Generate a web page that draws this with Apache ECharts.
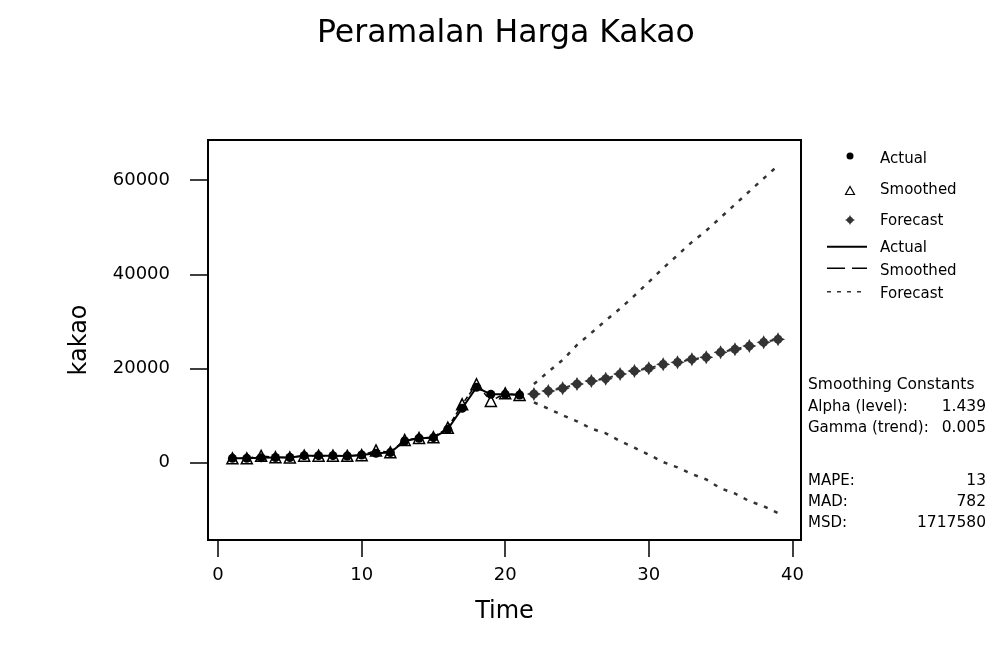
<!DOCTYPE html>
<html>
<head>
<meta charset="utf-8">
<script src="https://cdn.jsdelivr.net/npm/echarts@6/dist/echarts.min.js"></script>
<style>
html,body{margin:0;padding:0;background:#fff;}
#chart{width:993px;height:668px;}
</style>
</head>
<body>
<div id="chart"></div>
<script>
// ---- data ----
const actualTime = [1,2,3,4,5,6,7,8,9,10,11,12,13,14,15,16,17,18,19,20,21];
const actual = [930,930,1060,1100,1100,1490,1490,1490,1420,1630,1990,2150,4610,5180,5310,7090,11550,16000,14520,14520,14370];
const smoothed = [930,930,1450,1150,1100,1500,1490,1500,1450,1600,2600,2200,4820,5250,5400,7430,12400,16650,13100,14730,14400];
const forecastTime = [22,23,24,25,26,27,28,29,30,31,32,33,34,35,36,37,38,39];
const forecast = [14590,15220,15800,16710,17350,17830,18830,19470,20040,20890,21320,21950,22380,23440,24080,24780,25560,26200];
const upperPI = [16700,19300,21800,25000,27550,30200,32700,35460,38380,41300,44060,46840,49270,52040,54820,57600,60360,63100];
const lowerPI = [12800,11490,10060,8790,7230,6240,4600,3190,1710,140,-1000,-2400,-3550,-5450,-6540,-8160,-9220,-10700];
const xTicks = [0,10,20,30,40];
const yTicks = [0,20000,40000,60000];
const statLabels = ['Alpha (level):','Gamma (trend):','','MAPE:','MAD:','MSD:'];
const statValues = ['1.439','0.005','','13','782','1717580'];

const FONT = '"DejaVu Sans", sans-serif';
const GRAY = '#333333';
const fcSymbol = 'path://M5 0L6 2A3.2 3.2 0 0 1 8 4L10 5L8 6A3.2 3.2 0 0 1 6 8L5 10L4 8A3.2 3.2 0 0 1 2 6L0 5L2 4A3.2 3.2 0 0 1 4 2Z';
const fcPoly = [[5,0],[6,2],[7.3,2.7],[8,4],[10,5],[8,6],[7.3,7.3],[6,8],[5,10],[4,8],[2.7,7.3],[2,6],[0,5],[2,4],[2.7,2.7],[4,2]];

const pairs = (xs, ys) => xs.map((x, i) => [x, ys[i]]);

const chart = echarts.init(document.getElementById('chart'), null, {renderer: 'canvas'});

// legend + stats as graphic elements
const graphics = [];
const lx0 = 827, lx1 = 867, tx = 880;
graphics.push({type:'circle', shape:{cx:850, cy:156, r:3.5}, style:{fill:'#000'}});
graphics.push({type:'polygon', shape:{points:[[850,186.5],[854.5,194.5],[845.5,194.5]]}, style:{fill:'#fff', stroke:'#000', lineWidth:1.2}});
graphics.push({type:'polygon', shape:{points: fcPoly.map(p => [p[0] + 845, p[1] + 215])}, style:{fill:GRAY}});
graphics.push({type:'line', shape:{x1:lx0, y1:246.7, x2:lx1, y2:246.7}, style:{stroke:'#000', lineWidth:2}});
graphics.push({type:'line', shape:{x1:lx0, y1:268.3, x2:lx1, y2:268.3}, style:{stroke:'#000', lineWidth:1.5, lineDash:[18,7]}});
graphics.push({type:'line', shape:{x1:lx0, y1:291.7, x2:lx1, y2:291.7}, style:{stroke:GRAY, lineWidth:1.5, lineDash:[4,6]}});
const legendTexts = [['Actual',159],['Smoothed',190],['Forecast',221],['Actual',248],['Smoothed',271.5],['Forecast',294]];
legendTexts.forEach(([t, y]) => graphics.push({type:'text', x:tx, y:y, style:{text:t, font:'15px ' + FONT, fill:'#000', textAlign:'left', textVerticalAlign:'middle'}}));
graphics.push({type:'text', x:808, y:385, style:{text:'Smoothing Constants', font:'15.5px ' + FONT, fill:'#000', textAlign:'left', textVerticalAlign:'middle'}});
const statY = [406.7, 428.3, 455, 481, 501.7, 523.3];
statLabels.forEach((t, i) => {
  if (!t) return;
  graphics.push({type:'text', x:808, y:statY[i], style:{text:t, font:'15px ' + FONT, fill:'#000', textAlign:'left', textVerticalAlign:'middle'}});
  graphics.push({type:'text', x:986, y:statY[i], style:{text:statValues[i], font:'15.5px ' + FONT, fill:'#000', textAlign:'right', textVerticalAlign:'middle'}});
});

const option = {
  animation: false,
  backgroundColor: '#fff',
  title: {
    text: 'Peramalan Harga Kakao',
    left: 312, top: 13,
    textStyle: {fontFamily: FONT, fontSize: 31.5, fontWeight: 'normal', color: '#000'}
  },
  grid: {left: 208, right: 192, top: 140, bottom: 128, show: true, borderColor: '#000', borderWidth: 2, backgroundColor: '#fff'},
  xAxis: {
    type: 'value', min: -0.7, max: 40.6,
    name: 'Time', nameLocation: 'middle', nameGap: 60,
    nameTextStyle: {fontFamily: FONT, fontSize: 24, color: '#000'},
    axisLine: {show: false, onZero: false},
    axisTick: {show: true, length: 17, inside: false, customValues: xTicks, lineStyle: {color: '#000', width: 1.5}},
    axisLabel: {customValues: xTicks, margin: 26, fontFamily: FONT, fontSize: 18, color: '#000', formatter: v => String(v)},
    splitLine: {show: false}
  },
  yAxis: {
    type: 'value', min: -16410, max: 68510,
    name: 'kakao', nameLocation: 'middle', nameGap: 116, nameRotate: 90,
    nameTextStyle: {fontFamily: FONT, fontSize: 24, color: '#000'},
    axisLine: {show: false, onZero: false},
    axisTick: {show: true, length: 18, customValues: yTicks, lineStyle: {color: '#000', width: 1.5}},
    axisLabel: {customValues: yTicks, margin: 38, fontFamily: FONT, fontSize: 18, color: '#000', formatter: v => String(v)},
    splitLine: {show: false}
  },
  series: [
    {name: 'Upper', type: 'line', data: pairs(forecastTime, upperPI), showSymbol: false, symbol: 'none',
     lineStyle: {color: GRAY, width: 2.5, type: [4, 7]}, z: 2, silent: true},
    {name: 'Lower', type: 'line', data: pairs(forecastTime, lowerPI), showSymbol: false, symbol: 'none',
     lineStyle: {color: GRAY, width: 2.5, type: [4, 7]}, z: 2, silent: true},
    {name: 'Forecast', type: 'line', data: pairs(forecastTime, forecast), symbol: fcSymbol, symbolSize: 14,
     itemStyle: {color: GRAY}, lineStyle: {color: GRAY, width: 2, type: [4, 7]}, z: 3, silent: true},
    {name: 'Smoothed', type: 'line', data: pairs(actualTime, smoothed), symbol: 'triangle', symbolSize: 11,
     itemStyle: {color: '#fff', borderColor: '#000', borderWidth: 1.5}, lineStyle: {color: '#000', width: 1.5, type: [5, 3]}, z: 3, silent: true},
    {name: 'Actual', type: 'line', data: pairs(actualTime, actual), symbol: 'circle', symbolSize: 9,
     itemStyle: {color: '#000'}, lineStyle: {color: '#000', width: 2}, z: 4, silent: true}
  ],
  graphic: graphics
};
chart.setOption(option);
</script>
</body>
</html>
